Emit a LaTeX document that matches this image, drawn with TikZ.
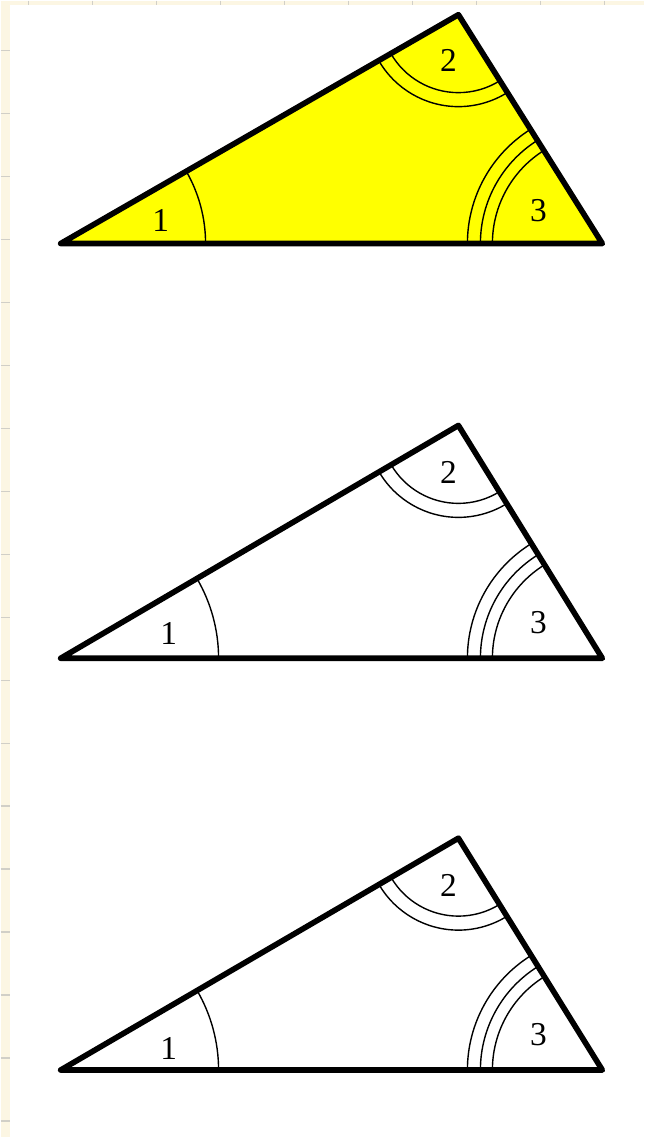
\documentclass[tikz,border=0pt]{standalone}
\usepackage{fontspec}
\setmainfont{Liberation Serif}
\usepackage{tkz-euclide}
\definecolor{ShapeFill}{rgb}{1,1,0}
\definecolor{PaperClr}{rgb}{0.99,0.965,0.89}
\definecolor{GridClr}{rgb}{0.82,0.81,0.78}

\begin{document}
\begin{tikzpicture}[angnum/.style={font=\fontsize{19}{21}\selectfont}]
\tkzSetUpLine[line width=3.2pt,color=black]

% paper
\fill[PaperClr] (0,0) rectangle (12.88,22.74);
\foreach \x in {0.56,1.84,...,12.88} \draw[GridClr,line width=0.8pt] (\x,22.74) -- (\x,22.6);
\foreach \y in {1.0,2.26,...,22.6} \draw[GridClr,line width=0.8pt] (0,22.74-\y) -- (0.18,22.74-\y);
\fill[white] (0.18,0) rectangle (12.88,22.66);

\tkzDefPoints{1.2/17.88/A1,9.16/22.46/B1,12.04/17.88/C1,
              1.2/9.58/A2,9.16/14.24/B2,12.04/9.58/C2,
              1.2/1.34/A3,9.16/5.98/B3,12.04/1.34/C3}

\tkzFillPolygon[fill=ShapeFill](A1,B1,C1)

% angle marks
\tkzMarkAngle[size=2.9cm,mark=none,line width=0.8pt](C1,A1,B1)
\tkzMarkAngle[size=1.56cm,mark=none,line width=0.8pt](A1,B1,C1)
\tkzMarkAngle[size=1.84cm,mark=none,line width=0.8pt](A1,B1,C1)
\tkzMarkAngle[size=2.2cm,mark=none,line width=0.8pt](B1,C1,A1)
\tkzMarkAngle[size=2.44cm,mark=none,line width=0.8pt](B1,C1,A1)
\tkzMarkAngle[size=2.7cm,mark=none,line width=0.8pt](B1,C1,A1)

\tkzMarkAngle[size=3.16cm,mark=none,line width=0.8pt](C2,A2,B2)
\tkzMarkAngle[size=1.56cm,mark=none,line width=0.8pt](A2,B2,C2)
\tkzMarkAngle[size=1.84cm,mark=none,line width=0.8pt](A2,B2,C2)
\tkzMarkAngle[size=2.2cm,mark=none,line width=0.8pt](B2,C2,A2)
\tkzMarkAngle[size=2.44cm,mark=none,line width=0.8pt](B2,C2,A2)
\tkzMarkAngle[size=2.7cm,mark=none,line width=0.8pt](B2,C2,A2)

\tkzMarkAngle[size=3.16cm,mark=none,line width=0.8pt](C3,A3,B3)
\tkzMarkAngle[size=1.56cm,mark=none,line width=0.8pt](A3,B3,C3)
\tkzMarkAngle[size=1.84cm,mark=none,line width=0.8pt](A3,B3,C3)
\tkzMarkAngle[size=2.2cm,mark=none,line width=0.8pt](B3,C3,A3)
\tkzMarkAngle[size=2.44cm,mark=none,line width=0.8pt](B3,C3,A3)
\tkzMarkAngle[size=2.7cm,mark=none,line width=0.8pt](B3,C3,A3)

\tkzDrawPolygon(A1,B1,C1)
\tkzDrawPolygon(A2,B2,C2)
\tkzDrawPolygon(A3,B3,C3)

\node[angnum] (one1) at (3.2,18.34) {1};
\node[angnum] (two1) at (8.96,21.54) {2};
\node[angnum] (three1) at (10.76,18.54) {3};
\node[angnum] (one2) at (3.36,10.08) {1};
\node[angnum] (two2) at (8.96,13.3) {2};
\node[angnum] (three2) at (10.76,10.3) {3};
\node[angnum] (one3) at (3.36,1.78) {1};
\node[angnum] (two3) at (8.96,5.04) {2};
\node[angnum] (three3) at (10.76,2.04) {3};
\end{tikzpicture}
\end{document}
